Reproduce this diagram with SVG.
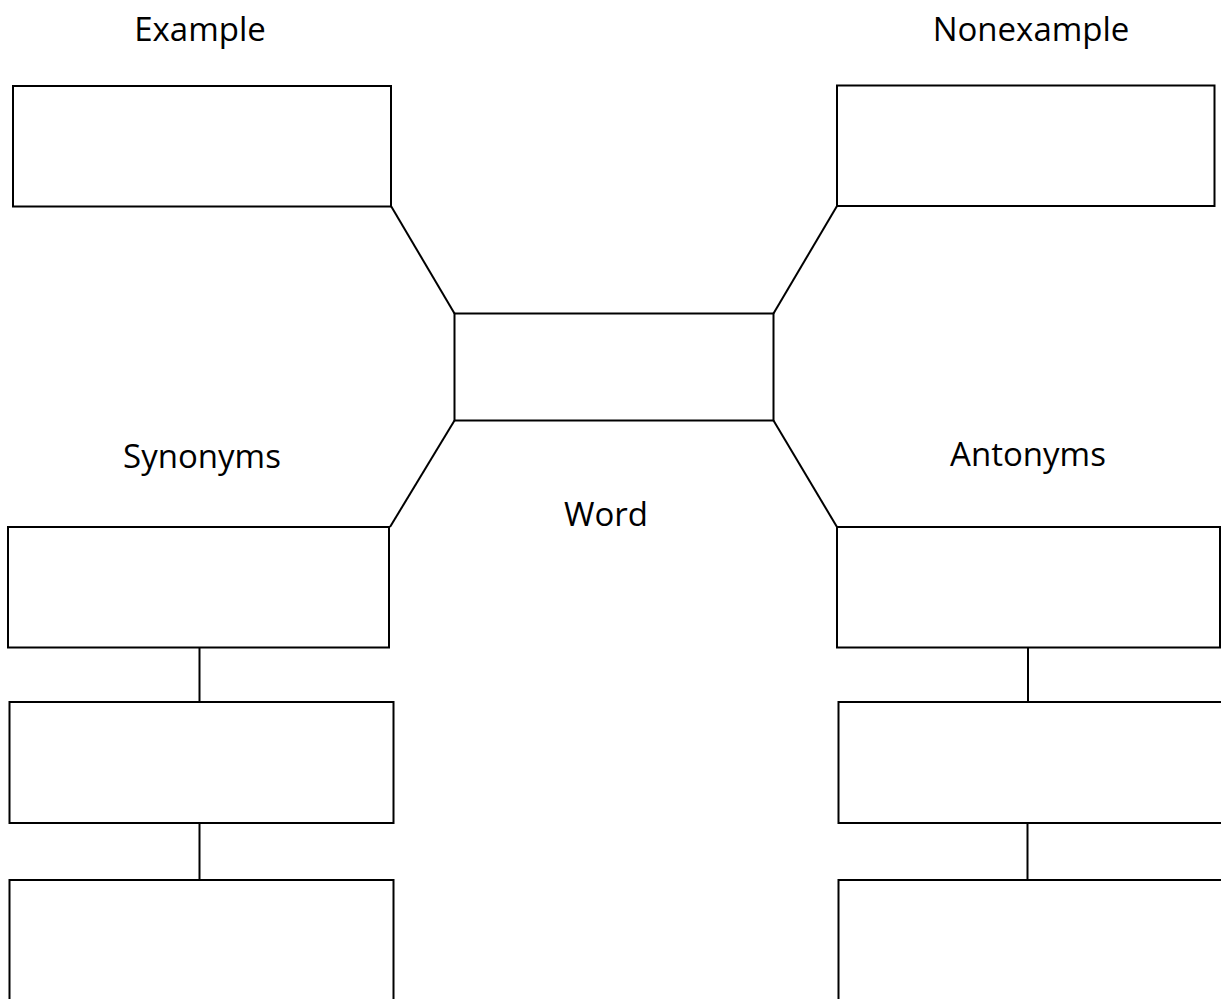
<svg xmlns="http://www.w3.org/2000/svg" width="1221" height="999" viewBox="0 0 1221 999">
<style>
.box{fill:#fff;stroke:#000;stroke-width:2}
.ln{fill:none;stroke:#000;stroke-width:2}
.lbl{font-family:"Open Sans","Liberation Sans",sans-serif;font-size:33px;fill:#000;text-anchor:middle}
</style>
<rect width="1221" height="999" fill="#fff"/>
<g id="connectors">
<line class="ln" x1="391" y1="206" x2="454.5" y2="313.5"/>
<line class="ln" x1="837" y1="206" x2="773.5" y2="313.5"/>
<line class="ln" x1="454.5" y1="420.5" x2="390" y2="527"/>
<line class="ln" x1="773.5" y1="420.5" x2="837" y2="527"/>
<line class="ln" x1="199.5" y1="647" x2="199.5" y2="702"/>
<line class="ln" x1="199.5" y1="823" x2="199.5" y2="880"/>
<line class="ln" x1="1028" y1="647" x2="1028" y2="702"/>
<line class="ln" x1="1027.5" y1="823" x2="1027.5" y2="880"/>
</g>
<g id="example"><text class="lbl" x="200" y="41">Example</text><rect class="box" x="13" y="86" width="378" height="120.5"/></g>
<g id="nonexample"><text class="lbl" x="1031" y="41">Nonexample</text><rect class="box" x="837" y="85.5" width="377.5" height="120.5"/></g>
<g id="word"><rect class="box" x="454.5" y="313.5" width="319" height="107"/><text class="lbl" x="606" y="526">Word</text></g>
<g id="synonyms"><text class="lbl" x="202" y="468">Synonyms</text><rect class="box" x="8" y="527" width="381" height="120.5"/></g>
<g id="syn2"><rect class="box" x="9.5" y="702" width="384" height="121"/></g>
<g id="syn3"><rect class="box" x="9.5" y="880" width="384" height="140"/></g>
<g id="antonyms"><text class="lbl" x="1028" y="466">Antonyms</text><rect class="box" x="837" y="527" width="383" height="120.5"/></g>
<g id="ant2"><rect class="box" x="838.5" y="702" width="400" height="121"/></g>
<g id="ant3"><rect class="box" x="838.5" y="880" width="400" height="140"/></g>
</svg>
